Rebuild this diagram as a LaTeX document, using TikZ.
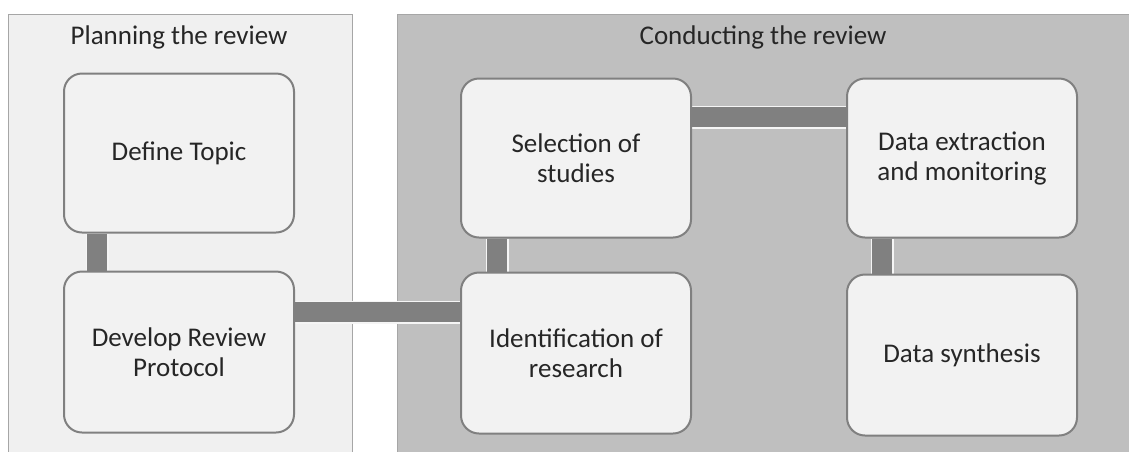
\documentclass[tikz,border=0pt]{standalone}
\usepackage{fontspec}
\setmainfont{Carlito}
\usetikzlibrary{positioning, backgrounds}

\definecolor{panelLight}{HTML}{F0F0F0}
\definecolor{panelDark}{HTML}{BFBFBF}
\definecolor{boxFill}{HTML}{F2F2F2}
\definecolor{edgeGray}{HTML}{808080}

\begin{document}
\begin{tikzpicture}[
    x=1pt, y=-1pt,
    node distance=38pt,
    panel/.style={draw=edgeGray!70, line width=1pt},
    stage/.style={rectangle, draw=edgeGray, line width=2pt, rounded corners=18pt, fill=boxFill, minimum width=230pt, minimum height=159pt, align=center, font=\fontsize{27}{30}\selectfont, text=black!85},
    title/.style={font=\fontsize{27}{30}\selectfont, text=black!85},
    link/.style={draw=white!92!gray, line width=1.5pt, double=edgeGray, double distance=20pt}
]
\clip (0,0) rectangle (1129,451);

% Phase panels
\begin{scope}[on background layer]
\fill[white] (0,0) rectangle (1129,451);
\draw[panel, fill=panelLight] (8,14) rectangle (352,470);
\draw[panel, fill=panelDark] (397,14) rectangle (1140,470);
\end{scope}

\node[title] (plan) at (179,37) {Planning the review};
\node[title] (conduct) at (763,37) {Conducting the review};

% Planning
\node[stage] (topic) at (179,153) {Define Topic};
\node[stage, minimum height=161pt, below=37pt of topic] (protocol) {Develop Review\\Protocol};

% Conducting
\node[stage] (select) at (576,158) {Selection of\\studies};
\node[stage, minimum height=161pt, below=33pt of select] (ident) {Identification of\\research};
\node[stage] (extract) at (962,158) {Data extraction\\and monitoring};
\node[stage, minimum height=161pt, below=35pt of extract] (synth) {Data synthesis};

% Links
\begin{scope}[on background layer]
\draw[link] ([xshift=-82pt]topic.south) -- ([xshift=-82pt]protocol.north);
\draw[link] ([yshift=40pt]protocol.east) -- ([yshift=40pt]protocol.east -| ident.west);
\draw[link] ([xshift=-79pt]select.south) -- ([xshift=-79pt]ident.north);
\draw[link] ([yshift=41pt]select.east) -- ([yshift=41pt]extract.west);
\draw[link] ([xshift=-80pt]extract.south) -- ([xshift=-80pt]synth.north);
\end{scope}

\end{tikzpicture}
\end{document}
